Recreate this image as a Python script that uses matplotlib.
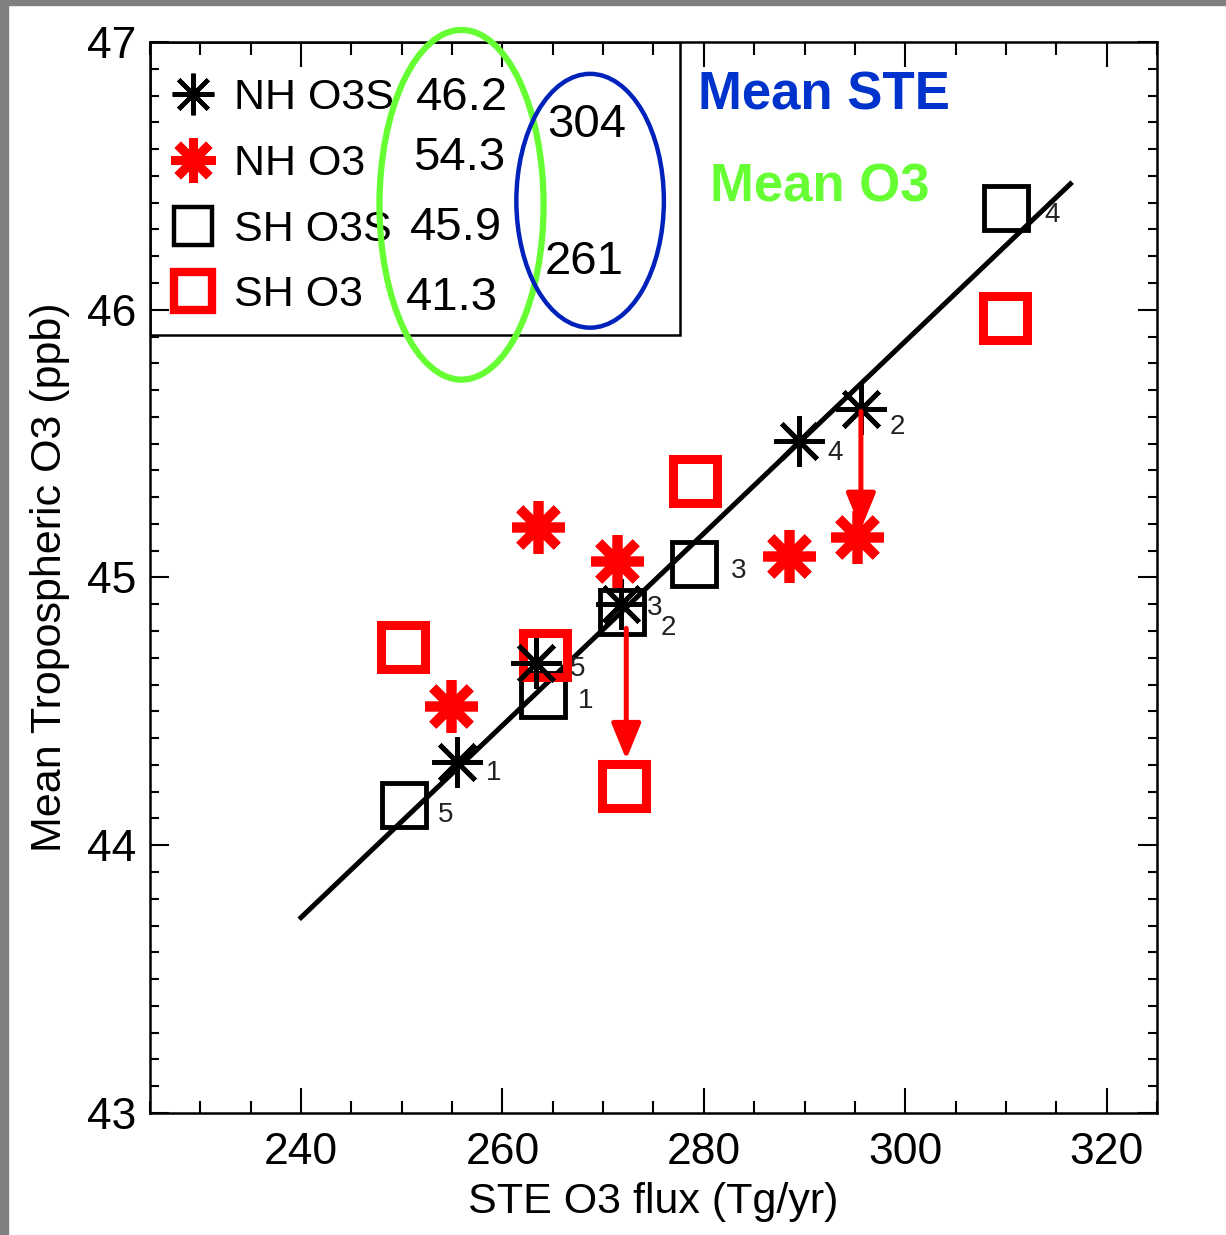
import matplotlib
matplotlib.use("Agg")
import matplotlib.pyplot as plt
from matplotlib.lines import Line2D
from matplotlib.patches import Ellipse, Rectangle
from matplotlib.ticker import MultipleLocator

plt.rcParams['font.family'] = ['Liberation Sans', 'DejaVu Sans']

# ---- data ----
nh_o3s_x = [255.5, 263.3, 271.8, 289.5, 295.6]
nh_o3s_y = [44.31, 44.68, 44.90, 45.51, 45.63]
nh_o3s_lab = ['1', '5', '3', '4', '2']

nh_o3_x = [254.9, 263.5, 271.4, 288.5, 295.2]
nh_o3_y = [44.52, 45.19, 45.06, 45.08, 45.15]

sh_o3s_x = [250.2, 264.0, 271.9, 279.0, 310.0]
sh_o3s_y = [44.15, 44.56, 44.87, 45.05, 46.38]
sh_o3s_lab = ['5', '1', '2', '3', '4']

sh_o3_x = [250.1, 264.2, 272.1, 279.1, 309.9]
sh_o3_y = [44.74, 44.71, 44.22, 45.36, 45.97]

fit_x = [240.0, 316.4]
fit_y = [43.73, 46.47]

series_names = ['NH O3S', 'NH O3', 'SH O3S', 'SH O3']
mean_o3 = ['46.2', '54.3', '45.9', '41.3']
mean_ste = ['304', '261']

# arrows (x, y_start, y_end)
arrows = [(295.6, 45.62, 45.18), (272.3, 44.81, 44.32)]

fig = plt.figure(figsize=(12.26, 12.35), dpi=100)
ax = fig.add_axes([0.1223, 0.0988, 0.8214, 0.8672])

# gray screenshot frame
fig.patches.append(Rectangle((0, 0), 8 / 1226, 1, transform=fig.transFigure,
                             color='#808080', zorder=0))
fig.patches.append(Rectangle((0, 1 - 5 / 1235), 1, 5 / 1235, transform=fig.transFigure,
                             color='#808080', zorder=0))

ast = (8, 2, 0)
ax.plot(fit_x, fit_y, color='black', lw=3.6, zorder=2)
ax.plot(sh_o3s_x, sh_o3s_y, ls='none', marker='s', ms=31, mfc='none', mec='black', mew=3.5, zorder=3)
ax.plot(sh_o3_x, sh_o3_y, ls='none', marker='s', ms=31, mfc='none', mec='#ff0000', mew=6.5, zorder=3)
ax.plot(nh_o3s_x, nh_o3s_y, ls='none', marker=ast, ms=36, mec='black', mew=3.5, zorder=4)
ax.plot(nh_o3_x, nh_o3_y, ls='none', marker=ast, ms=38, mec='#ff0000', mew=7, zorder=4)

nh_off = [(26, -8), (30, -4), (24, -3), (26, -9), (26, -13)]
for (x, y, t), off in zip(zip(nh_o3s_x, nh_o3s_y, nh_o3s_lab), nh_off):
    ax.annotate(t, (x, y), xytext=off, textcoords='offset points',
                fontsize=20, color='#222222', ha='center', va='center')
sh_off = [(30, -7), (31, -4), (33, -11), (32, -5), (33, -5)]
for (x, y, t), off in zip(zip(sh_o3s_x, sh_o3s_y, sh_o3s_lab), sh_off):
    ax.annotate(t, (x, y), xytext=off, textcoords='offset points',
                fontsize=20, color='#222222', ha='center', va='center')

for x, y0, y1 in arrows:
    ax.annotate('', xy=(x, y1), xytext=(x, y0),
                arrowprops=dict(arrowstyle='-|>,head_length=1.1,head_width=0.45',
                                mutation_scale=20, color='#ff0000', lw=3.6,
                                shrinkA=0, shrinkB=0), zorder=5)

ax.set_xlim(225, 325)
ax.set_ylim(43, 47)
ax.xaxis.set_major_locator(MultipleLocator(20))
ax.xaxis.set_minor_locator(MultipleLocator(5))
ax.yaxis.set_major_locator(MultipleLocator(1))
ax.yaxis.set_minor_locator(MultipleLocator(0.1))
ax.tick_params(axis='x', which='major', direction='in', length=18, width=1.5,
               top=True, labelsize=32, pad=14)
ax.tick_params(axis='x', which='minor', direction='in', length=9, width=1.5, top=True)
ax.tick_params(axis='y', which='major', direction='in', length=14, width=1.5,
               right=True, labelsize=32, pad=10)
ax.tick_params(axis='y', which='minor', direction='in', length=6.5, width=1.5, right=True)
for s in ax.spines.values():
    s.set_linewidth(1.8)

ax.set_xlabel('STE O3 flux (Tg/yr)', fontsize=31, labelpad=6)
ax.set_ylabel('Mean Tropospheric O3 (ppb)', fontsize=31, labelpad=12)

# legend
handles = [
    Line2D([], [], ls='none', marker=ast, ms=30, mec='black', mew=3.2),
    Line2D([], [], ls='none', marker=ast, ms=32, mec='#ff0000', mew=6.5),
    Line2D([], [], ls='none', marker='s', ms=28, mfc='none', mec='black', mew=3.2),
    Line2D([], [], ls='none', marker='s', ms=28, mfc='none', mec='#ff0000', mew=6),
]
leg = ax.legend(handles, series_names, loc='upper left', bbox_to_anchor=(0, 0.9785),
                borderaxespad=0, frameon=False, fontsize=31, handlelength=1.4,
                handletextpad=0.26, labelspacing=0.6, borderpad=0.3)
ax.add_patch(Rectangle((0, 0.7265), 0.526, 0.2735, transform=ax.transAxes,
                       fill=False, ec='black', lw=1.8, zorder=6))

o3_pos = [(255.94, 46.79), (255.74, 46.567), (255.35, 46.306), (254.95, 46.045)]
for (x, y), t in zip(o3_pos, mean_o3):
    ax.text(x, y, t, fontsize=34, ha='center', va='center')
ste_pos = [(268.42, 46.69), (268.12, 46.179)]
for (x, y), t in zip(ste_pos, mean_ste):
    ax.text(x, y, t, fontsize=34, ha='center', va='center')

ax.add_patch(Ellipse((255.94, 46.392), 16.3, 1.306, fill=False, ec='#66ff33', lw=4.5,
                     clip_on=False, zorder=7))
ax.add_patch(Ellipse((268.71, 46.407), 14.65, 0.948, fill=False, ec='#0022bb', lw=3.2,
                     clip_on=False, zorder=7))

ax.text(279.41, 46.80, 'Mean STE', fontsize=38, fontweight='bold', color='#0033cc',
        ha='left', va='center')
ax.text(280.59, 46.455, 'Mean O3', fontsize=38, fontweight='bold', color='#66ff33',
        ha='left', va='center')

fig.savefig('out.png', dpi=100)
